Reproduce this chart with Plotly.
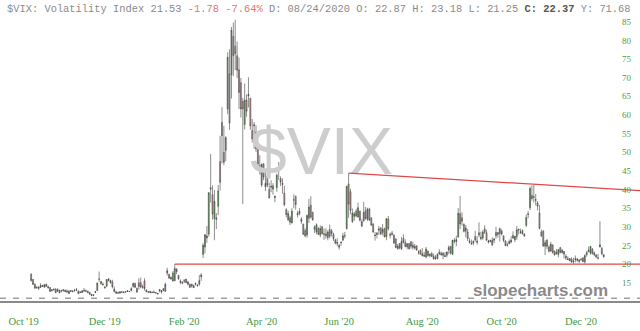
import pandas as pd
import plotly.graph_objects as go

# ---------------- data ----------------
start_date = "2019-10-11"
holidays = ["2019-11-28", "2019-12-25", "2020-01-01", "2020-01-20", "2020-02-17",
            "2020-04-10", "2020-05-25", "2020-07-03", "2020-09-07", "2020-11-26", "2020-12-25"]

opens = [
    17.3, 15.9, 14.6, 13.7, 13.5, 13.8, 14.3, 13.9, 14.6, 13.9, 13.7, 12.9, 13.1, 13.2, 12.7,
    13.0, 12.8, 12.9, 13.0, 12.5, 12.8, 12.9, 12.7, 12.9, 13.1, 12.8, 12.4, 12.4, 12.9, 12.8, 12.7, 12.4, 11.9, 11.6, 12.4,
    12.9, 16.0, 15.3, 14.6, 13.9, 14.1, 16.0, 15.6, 15.2, 13.3, 12.6, 12.3, 12.2, 12.5, 12.4, 12.6, 12.9, 12.6, 12.9, 14.0, 14.8,
    13.5, 15.0, 15.0, 13.9, 15.5, 13.1, 12.5, 12.7, 12.4, 12.5, 12.3, 12.0, 13.2, 12.5, 13.4, 12.7, 17.6, 17.3, 16.0, 17.6, 15.5,
    18.6, 17.0, 15.4, 15.1, 15.5, 16.0, 14.6, 14.6, 14.6, 14.2, 14.6, 14.3, 14.6, 16.6, 22.6, 24.6, 27.0, 28.1, 40.5,
    38.6, 32.2, 32.4, 35.5, 47.5, 58.0, 50.0, 50.5, 61.6, 71.0, 70.8, 81.1, 78.4, 75.9, 72.1, 68.6, 63.6, 57.4, 64.0, 65.1, 64.5, 55.8,
    57.4, 55.4, 50.7, 46.4, 41.2, 46.9, 40.7, 43.5, 40.0, 40.6, 41.0, 37.8, 40.5, 46.0, 42.9, 41.7, 39.0, 34.6, 31.9, 32.4, 31.0,
    37.2, 38.1, 33.2, 33.6, 32.0, 30.7, 29.0, 27.8, 32.3, 35.8, 33.8, 30.0, 28.6, 29.6, 27.8, 30.0, 28.1, 28.1, 27.1, 29.3,
    28.9, 28.0, 26.5, 25.5, 25.0, 25.9, 26.4, 27.6, 29.5, 41.5, 39.4, 31.4, 32.8, 34.2, 32.6, 34.2, 30.2, 31.6, 34.3, 32.0, 34.8, 32.4,
    30.7, 27.8, 28.3, 29.1, 29.7, 28.5, 29.6, 27.3, 32.1, 28.0, 28.3, 27.7, 26.8, 24.1, 25.5, 24.1, 26.9, 25.8, 24.6, 25.5, 26.0, 25.1,
    24.8, 24.9, 23.2, 23.7, 22.8, 22.4, 21.9, 23.5, 22.3, 22.8, 22.1, 21.8, 21.5, 23.2, 22.9, 22.9, 22.3, 22.4, 23.8, 24.7, 22.6,
    26.3, 26.0, 27.3, 33.5, 32.4, 30.7, 28.8, 28.6, 26.2, 25.5, 25.6, 27.4, 26.2, 28.4, 27.2, 27.0, 29.4, 28.4, 25.9, 26.1, 25.2,
    26.4, 28.5, 28.5, 28.2, 28.9, 27.6, 26.2, 25.2, 25.5, 25.9, 27.7, 26.5, 27.3, 29.1, 28.4, 29.0, 28.0, 30.4, 33.5, 35.1, 38.4, 37.9,
    37.3, 36.4, 33.7, 28.6, 28.9, 24.8, 26.4, 24.6, 23.5, 25.1, 23.4, 23.2, 22.6, 24.4, 23.1, 23.4, 22.1, 21.4, 21.5, 21.3,
    20.6, 21.5, 21.0, 21.1, 21.3, 21.6, 20.6, 23.1, 23.8, 22.9, 24.0, 23.0, 22.5, 21.7, 24.6, 24.2, 22.5,
]
highs = [
    17.5, 15.9, 14.8, 14.2, 14.0, 14.9, 14.4, 14.6, 14.7, 14.2, 13.8, 13.2, 13.5, 13.6, 13.5,
    13.1, 13.0, 13.3, 13.2, 13.2, 12.9, 13.0, 13.0, 13.3, 13.6, 12.9, 12.7, 12.9, 13.6, 13.2, 12.9, 12.4, 12.0, 11.8, 12.8,
    15.1, 18.0, 15.5, 15.1, 14.0, 15.9, 16.3, 15.8, 15.8, 14.0, 12.7, 12.6, 12.7, 12.7, 12.7, 12.8, 12.9, 12.8, 13.8, 15.0, 15.0,
    13.7, 16.2, 16.4, 14.5, 16.2, 13.1, 12.7, 12.8, 12.7, 12.9, 12.4, 12.3, 13.3, 12.9, 13.6, 15.0, 19.0, 17.3, 16.7, 18.1, 20.0,
    18.9, 17.0, 15.9, 15.4, 16.0, 16.0, 15.5, 14.7, 14.7, 14.5, 15.0, 14.5, 17.1, 17.6, 25.6, 28.0, 30.2, 39.2, 49.5,
    41.1, 39.9, 33.7, 41.2, 54.4, 62.1, 57.1, 54.3, 76.8, 77.6, 83.6, 84.8, 85.5, 79.7, 75.4, 69.9, 64.6, 68.4, 65.5, 70.1, 64.5, 58.9,
    58.1, 57.2, 51.9, 49.2, 47.0, 47.0, 44.8, 44.1, 41.8, 42.5, 41.7, 38.4, 44.3, 47.4, 43.5, 43.0, 41.0, 35.0, 34.3, 33.0, 35.0,
    38.7, 38.4, 34.3, 35.0, 32.6, 30.8, 29.6, 33.3, 37.5, 38.2, 34.1, 30.4, 30.9, 29.9, 30.4, 30.2, 29.5, 29.6, 29.1, 30.6,
    29.4, 28.4, 26.8, 26.9, 25.4, 26.0, 28.4, 28.6, 41.1, 44.4, 40.2, 34.9, 34.0, 34.8, 36.5, 34.3, 32.0, 36.7, 35.3, 35.1, 35.1, 32.5,
    31.0, 28.6, 28.6, 30.2, 29.8, 30.7, 29.6, 32.2, 32.9, 28.5, 28.9, 28.0, 26.8, 25.4, 25.6, 27.3, 28.0, 26.6, 25.7, 25.6, 26.1, 26.0,
    25.4, 25.0, 23.7, 23.9, 24.3, 23.3, 24.6, 23.6, 22.9, 23.3, 22.8, 22.4, 22.9, 24.0, 23.4, 23.2, 23.2, 23.3, 25.0, 24.9, 26.5,
    27.0, 27.6, 35.0, 38.3, 33.9, 30.9, 30.5, 29.4, 27.0, 26.6, 26.4, 28.9, 27.5, 31.2, 28.7, 29.1, 30.4, 29.2, 26.5, 26.6, 27.2,
    27.0, 30.0, 28.5, 29.8, 29.3, 27.6, 26.4, 25.8, 26.6, 27.5, 28.8, 27.2, 30.2, 29.4, 29.5, 29.3, 28.3, 33.3, 34.2, 40.8, 41.1, 41.2,
    38.8, 36.9, 35.8, 29.3, 29.0, 26.4, 26.7, 25.0, 26.0, 25.3, 23.7, 24.0, 24.0, 24.6, 24.1, 23.5, 22.6, 22.1, 21.6, 21.8,
    21.7, 22.3, 21.7, 21.3, 21.6, 21.9, 22.6, 23.5, 24.7, 24.9, 24.3, 23.4, 22.5, 22.7, 31.5, 24.6, 22.7,
]
lows = [
    15.3, 14.4, 13.4, 13.4, 13.1, 13.6, 13.9, 13.6, 13.9, 13.4, 12.6, 12.6, 12.9, 12.3, 12.6,
    12.2, 12.4, 12.6, 12.5, 12.3, 12.0, 12.5, 12.4, 12.6, 12.8, 12.0, 12.2, 12.2, 12.6, 12.5, 12.3, 11.8, 11.5, 11.4, 12.2,
    12.8, 15.2, 14.4, 14.2, 13.5, 13.8, 15.3, 14.8, 13.5, 12.4, 12.1, 12.0, 12.1, 12.2, 12.2, 12.3, 12.5, 12.5, 12.7, 13.7, 13.6,
    12.4, 13.1, 13.5, 13.4, 12.9, 12.5, 12.3, 12.2, 12.2, 12.2, 12.0, 11.8, 12.4, 12.1, 12.7, 12.5, 16.9, 16.0, 15.9, 15.3, 15.5,
    17.3, 15.8, 14.6, 14.6, 14.9, 14.9, 14.3, 13.7, 13.7, 13.6, 14.2, 13.9, 14.2, 15.5, 21.6, 22.9, 25.7, 27.4, 36.5,
    31.9, 26.4, 29.4, 33.1, 39.7, 47.0, 46.5, 47.6, 60.2, 56.0, 64.4, 70.4, 72.0, 69.9, 61.6, 59.3, 36.1, 56.1, 59.5, 62.0, 56.0, 52.6,
    50.9, 50.1, 45.5, 44.0, 40.7, 42.5, 39.6, 40.6, 37.6, 39.3, 38.6, 36.6, 39.4, 42.6, 40.9, 38.9, 35.5, 32.5, 31.5, 30.5, 31.0,
    35.0, 34.6, 32.5, 33.1, 30.8, 27.9, 27.2, 27.1, 31.0, 32.2, 31.6, 28.3, 28.0, 27.8, 27.2, 28.0, 26.5, 26.8, 26.4, 26.9,
    27.4, 26.2, 25.3, 24.8, 23.9, 24.9, 26.3, 26.9, 29.3, 32.4, 33.4, 31.0, 31.6, 32.5, 32.5, 31.4, 29.9, 31.4, 31.9, 31.6, 31.6, 30.3,
    28.4, 26.3, 26.9, 27.9, 27.8, 27.7, 27.2, 26.4, 29.0, 26.9, 27.6, 25.4, 24.3, 23.9, 24.0, 23.8, 25.5, 24.5, 24.0, 23.9, 24.1, 23.9,
    23.9, 23.6, 22.5, 22.6, 22.1, 22.0, 21.6, 22.0, 21.8, 21.9, 21.3, 21.1, 21.3, 22.4, 22.2, 21.3, 21.9, 21.8, 22.7, 22.6, 22.5,
    25.5, 24.8, 27.0, 29.4, 30.3, 28.5, 27.2, 26.2, 25.5, 25.1, 25.0, 26.0, 25.2, 27.2, 26.4, 26.5, 28.1, 26.4, 25.5, 25.8, 24.8,
    25.6, 26.8, 27.1, 26.1, 27.7, 25.9, 24.8, 24.7, 25.3, 25.6, 26.8, 25.9, 26.5, 27.9, 28.1, 27.9, 27.3, 29.9, 32.3, 34.5, 37.0, 36.5,
    35.7, 34.4, 29.3, 27.3, 24.6, 22.4, 24.0, 23.1, 23.3, 22.8, 22.3, 22.6, 21.8, 22.9, 22.8, 21.5, 21.1, 21.1, 20.8, 20.3,
    20.1, 20.5, 20.6, 20.2, 20.8, 20.5, 20.1, 22.0, 23.2, 22.5, 22.5, 22.1, 21.6, 21.3, 24.5, 22.4, 21.7,
]
closes = [
    15.58, 14.57, 13.54, 13.68, 13.79, 14.25, 14.00, 14.46, 14.01, 13.71, 12.65, 13.11, 13.20, 12.33, 13.22,
    12.30, 12.83, 13.10, 12.62, 12.73, 12.07, 12.69, 12.68, 13.00, 13.05, 12.05, 12.46, 12.86, 12.78, 12.78, 12.34, 11.87, 11.54, 11.75, 12.62,
    14.91, 15.96, 14.80, 14.52, 13.62, 15.86, 15.68, 14.99, 13.94, 12.63, 12.14, 12.29, 12.58, 12.50, 12.51, 12.61, 12.67, 12.65, 13.43, 14.82, 13.78,
    12.47, 14.02, 13.85, 13.79, 13.45, 12.54, 12.56, 12.32, 12.39, 12.42, 12.32, 12.10, 12.85, 12.91, 12.98, 14.56, 18.23, 16.28, 16.39, 15.49, 18.84,
    17.97, 16.05, 15.15, 14.96, 15.47, 15.04, 15.18, 13.74, 14.15, 13.68, 14.83, 14.38, 15.56, 17.08, 25.03, 27.85, 27.56, 39.16, 40.11,
    33.42, 36.82, 31.99, 39.62, 41.94, 54.46, 47.30, 53.90, 75.47, 57.83, 82.69, 75.91, 76.45, 72.00, 66.04, 61.59, 61.67, 63.95, 61.00, 65.54, 57.08, 53.54,
    57.06, 50.91, 46.80, 45.24, 46.70, 43.35, 41.67, 41.17, 37.76, 40.84, 40.11, 38.15, 43.83, 45.41, 41.98, 41.38, 35.93, 33.29, 33.57, 31.23, 34.15,
    37.19, 35.97, 33.61, 34.12, 31.44, 27.98, 27.57, 33.04, 35.28, 32.61, 31.89, 29.30, 30.53, 27.99, 29.53, 28.16, 28.01, 27.62, 28.59, 27.51,
    28.23, 26.84, 25.66, 25.81, 24.52, 25.81, 27.57, 27.57, 40.79, 36.09, 34.40, 33.67, 33.47, 32.94, 35.12, 31.77, 31.37, 33.84, 32.22, 34.73, 31.78, 30.43,
    28.62, 27.68, 27.94, 29.43, 28.08, 29.26, 27.29, 32.19, 29.52, 27.76, 28.00, 25.68, 24.46, 24.84, 24.32, 26.08, 25.84, 24.74, 25.44, 24.10, 24.76, 24.46,
    24.28, 23.76, 23.19, 22.65, 22.21, 22.13, 24.03, 22.28, 22.59, 22.05, 21.35, 21.51, 22.54, 22.72, 22.54, 22.37, 22.03, 23.27, 24.47, 22.96, 26.41,
    26.12, 26.57, 33.60, 30.75, 31.46, 28.81, 29.71, 26.87, 25.85, 25.59, 26.04, 26.46, 25.83, 27.78, 26.86, 28.58, 28.51, 26.38, 26.19, 26.27, 26.37,
    26.70, 27.63, 27.96, 29.48, 28.06, 26.36, 25.00, 25.07, 26.07, 26.40, 26.97, 27.41, 29.18, 29.35, 28.65, 28.11, 27.55, 32.46, 33.35, 40.28, 37.59, 38.02,
    37.13, 35.55, 29.57, 27.58, 24.86, 25.75, 24.80, 23.45, 25.35, 23.10, 22.45, 22.71, 23.84, 23.11, 23.70, 22.66, 21.64, 21.25, 20.84, 20.57,
    20.77, 21.17, 21.28, 20.79, 21.30, 20.68, 22.27, 22.52, 23.31, 24.72, 22.89, 22.50, 21.93, 21.57, 25.16, 22.80, 22.00,
]

month_labels = ["Oct '19", "Dec '19", "Feb '20", "Apr '20", "Jun '20", "Aug '20", "Oct '20", "Dec '20"]
month_starts = ["2019-10-01", "2019-12-01", "2020-02-01", "2020-04-01",
                "2020-06-01", "2020-08-01", "2020-10-01", "2020-12-01"]

support_start, support_level = "2020-01-31", 20.0
trend_start, trend_values = "2020-06-12", [44.4, 39.7]

y_tick_values = [15, 20, 25, 30, 35, 40, 45, 50, 55, 60, 65, 70, 75, 80, 85]

header_html = ("$VIX: Volatility Index 21.53 "
               "<span style='color:#e57373'>-1.78 -7.64%</span> "
               "D: 08/24/2020 O: 22.87 H: 23.18 L: 21.25 "
               "<b><span style='color:#555'>C: 22.37</span></b> Y: 71.68")

assert len(opens) == len(highs) == len(lows) == len(closes)

# ---------------- trading-day index axis ----------------
tdays = pd.bdate_range("2019-10-01", "2020-12-31", freq="C", holidays=holidays)
pos = {d: i for i, d in enumerate(tdays)}
data_days = tdays[tdays >= pd.Timestamp(start_date)][:len(closes)]
xs = [pos[d] for d in data_days]


def first_pos(date_str):
    return pos[tdays[tdays >= pd.Timestamp(date_str)][0]]


x_min, x_max = -8.47, 330.2
tick_positions = [first_pos(m) + 4 for m in month_starts]

fig = go.Figure()

# watermark (drawn first, so it sits beneath the candles)
fig.add_trace(go.Scatter(
    x=[(x_min + x_max) / 2 + 0.8], y=[48.6], mode="text", text=["$VIX"],
    textfont=dict(family="Liberation Sans", size=66, color="#cdcdcd"),
    hoverinfo="skip", showlegend=False, cliponaxis=False))

fig.add_trace(go.Candlestick(
    x=xs, open=opens, high=highs, low=lows, close=closes,
    increasing=dict(line=dict(color="#404040", width=0.6), fillcolor="#5aa855"),
    decreasing=dict(line=dict(color="#404040", width=0.6), fillcolor="#d49a9a"),
    whiskerwidth=0, showlegend=False))

fig.add_trace(go.Scatter(
    x=[first_pos(support_start), x_max], y=[support_level, support_level],
    mode="lines", line=dict(color="#e04848", width=1.2), showlegend=False, hoverinfo="skip"))
fig.add_trace(go.Scatter(
    x=[first_pos(trend_start), x_max], y=trend_values,
    mode="lines", line=dict(color="#e04848", width=1.2), showlegend=False, hoverinfo="skip"))

fig.update_layout(
    width=640, height=331,
    margin=dict(l=0, r=0, t=0, b=30),
    paper_bgcolor="white", plot_bgcolor="white",
    showlegend=False,
    xaxis=dict(range=[x_min, x_max], rangeslider=dict(visible=False),
               tickvals=tick_positions, ticktext=month_labels,
               tickfont=dict(family="Liberation Serif", size=10.5, color="#3f9a3f"),
               showgrid=False, zeroline=False, ticks="", ticklabelstandoff=9,
               showline=True, linecolor="#8a8a8a", linewidth=2),
    yaxis=dict(range=[10.1, 90.82], side="right", ticklabelposition="inside",
               tickvals=y_tick_values,
               tickfont=dict(family="Liberation Serif", size=9, color="#4c9c4c"),
               showgrid=False, zeroline=False, ticks="", ticklabelstandoff=6),
    shapes=[dict(type="line", xref="paper", yref="paper", x0=0, x1=1, y0=0.009, y1=0.009,
                 line=dict(color="#a0a0a0", width=1.5, dash="6px,7px"))],
    annotations=[
        dict(text=header_html, xref="paper", yref="paper", x=0, y=1, xanchor="left",
             yanchor="top", xshift=5, yshift=-1, showarrow=False,
             font=dict(family="Liberation Mono", size=10.4, color="#8a8a8a")),
        dict(text="<b>slopecharts.com</b>", xref="paper", yref="paper", x=540 / 640,
             y=(301 - 290) / 301, xanchor="center", yanchor="middle", showarrow=False,
             font=dict(family="Liberation Sans", size=17, color="#8a8a8a")),
    ],
)

fig.write_html("out.html")
